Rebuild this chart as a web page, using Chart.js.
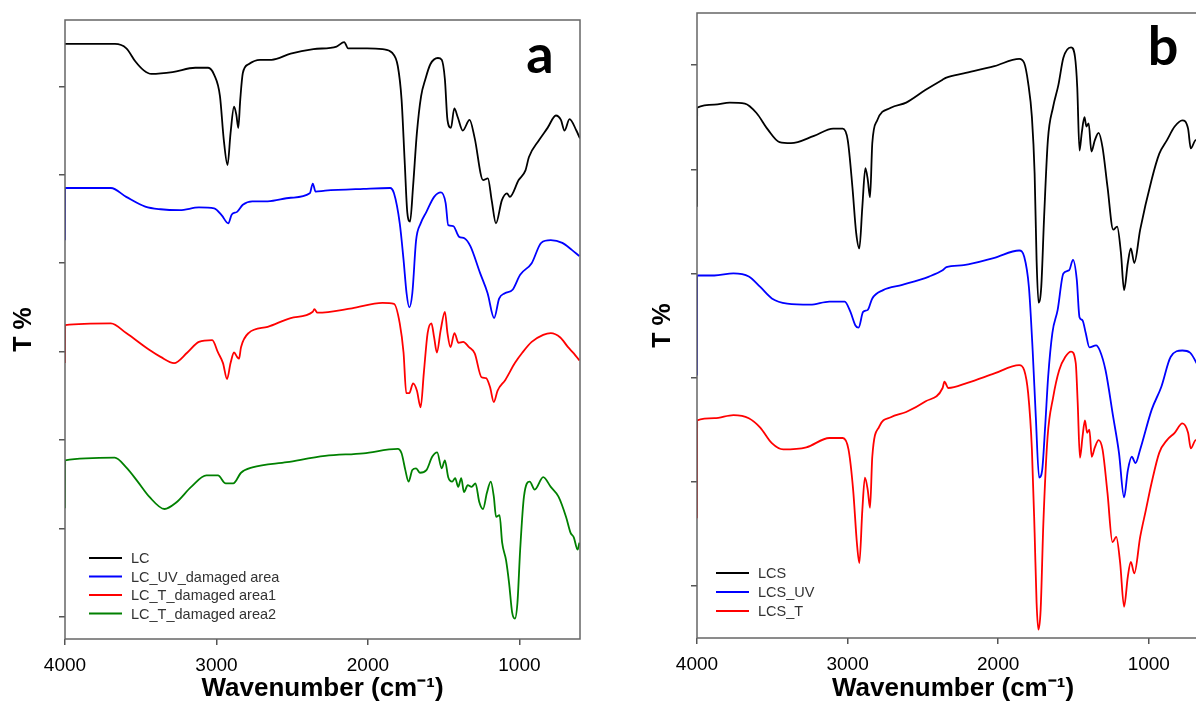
<!DOCTYPE html>
<html>
<head>
<meta charset="utf-8">
<script src="https://cdn.jsdelivr.net/npm/chart.js@4"></script>
<style>
html, body { margin: 0; padding: 0; background: #fff; overflow: hidden; width: 1196px; height: 704px; }
#wrapA { position: absolute; left: 0; top: 0; width: 600px; height: 704px; }
#wrapB { position: absolute; left: 600px; top: 0; width: 640px; height: 704px; }
</style>
</head>
<body>
<div id="wrapA"><canvas id="panelA" width="600" height="704"></canvas></div>
<div id="wrapB"><canvas id="panelB" width="640" height="704"></canvas></div>
<script>
// x ticks (cm-1), y tick marks (offset T%, labels hidden)
const wnTicks = [4000, 3000, 2000, 1000];
const tTicksA = [0, 1, 2, 3, 4, 5, 6];
const tTicksB = [0, 1, 2, 3, 4, 5];

// Panel a - LC
const lcWn = [4000, 3670, 3595, 3535, 3480, 3430, 3290, 3140, 3055, 3015, 2977, 2952, 2927, 2907, 2884, 2869, 2856, 2843, 2826, 2788, 2712, 2636, 2510, 2360, 2207, 2157, 2131, 2005, 1904, 1841, 1803, 1778, 1758, 1740, 1722, 1702, 1677, 1649, 1621, 1588, 1538, 1513, 1492, 1475, 1452, 1430, 1407, 1374, 1329, 1296, 1240, 1208, 1183, 1155, 1116, 1082, 1063, 1005, 960, 937, 871, 814, 759, 726, 702, 669, 624, 600];
const lcT = [6.48, 6.48, 6.43, 6.28, 6.18, 6.14, 6.16, 6.21, 6.21, 6.13, 5.89, 5.40, 5.11, 5.47, 5.77, 5.68, 5.53, 5.85, 6.15, 6.25, 6.30, 6.30, 6.37, 6.42, 6.45, 6.50, 6.43, 6.43, 6.42, 6.38, 6.23, 5.85, 5.17, 4.57, 4.47, 4.87, 5.47, 5.89, 6.08, 6.25, 6.32, 6.30, 6.08, 5.62, 5.53, 5.75, 5.65, 5.50, 5.62, 5.42, 4.94, 4.96, 4.71, 4.45, 4.71, 4.79, 4.75, 4.94, 5.05, 5.20, 5.39, 5.53, 5.67, 5.62, 5.50, 5.63, 5.50, 5.41];

// Panel a - LC_UV_damaged area
const lcUvWn = [4000, 3999, 3697, 3596, 3470, 3369, 3242, 3116, 3015, 2965, 2922, 2899, 2864, 2826, 2763, 2662, 2510, 2384, 2364, 2346, 2283, 2030, 1854, 1828, 1790, 1765, 1745, 1727, 1707, 1682, 1652, 1614, 1563, 1518, 1487, 1470, 1437, 1399, 1361, 1323, 1260, 1210, 1167, 1134, 1096, 1045, 995, 919, 856, 793, 717, 654, 604];
const lcUvT = [4.26, 4.85, 4.85, 4.75, 4.64, 4.61, 4.60, 4.63, 4.62, 4.54, 4.45, 4.55, 4.58, 4.66, 4.70, 4.70, 4.74, 4.79, 4.90, 4.81, 4.82, 4.84, 4.85, 4.79, 4.45, 4.04, 3.66, 3.50, 3.66, 4.26, 4.45, 4.58, 4.75, 4.80, 4.68, 4.43, 4.42, 4.30, 4.28, 4.19, 3.89, 3.66, 3.38, 3.60, 3.66, 3.70, 3.87, 4.00, 4.23, 4.26, 4.23, 4.15, 4.08];

// Panel a - LC_T_damaged area1
const lcT1Wn = [4000, 3999, 3697, 3596, 3444, 3369, 3280, 3192, 3116, 3028, 2990, 2957, 2930, 2907, 2884, 2864, 2851, 2838, 2788, 2662, 2510, 2364, 2354, 2333, 2106, 1904, 1828, 1790, 1765, 1747, 1727, 1702, 1677, 1652, 1631, 1606, 1581, 1563, 1545, 1520, 1492, 1475, 1455, 1429, 1402, 1371, 1333, 1295, 1250, 1220, 1194, 1169, 1144, 1093, 1030, 980, 919, 843, 793, 730, 679, 641, 604];
const lcT1T = [2.87, 3.30, 3.32, 3.21, 3.02, 2.94, 2.87, 2.99, 3.11, 3.13, 2.99, 2.87, 2.69, 2.87, 2.99, 2.94, 2.92, 3.05, 3.21, 3.28, 3.38, 3.45, 3.48, 3.44, 3.49, 3.55, 3.54, 3.32, 2.99, 2.53, 2.53, 2.64, 2.56, 2.37, 2.76, 3.21, 3.32, 3.16, 2.99, 3.24, 3.45, 3.21, 3.05, 3.21, 3.10, 3.11, 3.05, 2.98, 2.71, 2.70, 2.60, 2.43, 2.56, 2.68, 2.87, 2.99, 3.11, 3.19, 3.21, 3.16, 3.05, 2.98, 2.90];

// Panel a - LC_T_damaged area2
const lcT2Wn = [4000, 3999, 3672, 3596, 3520, 3444, 3343, 3268, 3167, 3066, 2990, 2939, 2889, 2838, 2763, 2535, 2283, 2030, 1803, 1778, 1753, 1732, 1707, 1682, 1657, 1614, 1576, 1543, 1513, 1492, 1470, 1444, 1424, 1404, 1384, 1366, 1341, 1316, 1290, 1265, 1240, 1215, 1189, 1169, 1154, 1131, 1114, 1088, 1068, 1048, 1030, 1013, 995, 970, 932, 899, 843, 793, 742, 692, 662, 641, 616, 604];
const lcT2T = [1.23, 1.77, 1.80, 1.69, 1.53, 1.36, 1.22, 1.29, 1.47, 1.60, 1.60, 1.51, 1.51, 1.63, 1.69, 1.75, 1.82, 1.85, 1.90, 1.85, 1.66, 1.53, 1.66, 1.68, 1.63, 1.66, 1.81, 1.86, 1.68, 1.77, 1.58, 1.53, 1.57, 1.47, 1.57, 1.41, 1.49, 1.47, 1.51, 1.30, 1.22, 1.40, 1.53, 1.36, 1.13, 1.15, 0.84, 0.64, 0.38, 0.05, -0.02, 0.16, 0.76, 1.36, 1.53, 1.44, 1.58, 1.47, 1.36, 1.13, 0.95, 0.90, 0.76, 0.84];

// Panel b - LCS
const lcsWn = [4000, 3999, 3885, 3783, 3682, 3605, 3529, 3452, 3376, 3223, 3096, 3032, 2999, 2968, 2943, 2922, 2902, 2882, 2866, 2851, 2836, 2803, 2713, 2611, 2484, 2369, 2344, 2229, 2025, 1860, 1827, 1801, 1776, 1758, 1745, 1732, 1714, 1695, 1670, 1635, 1600, 1567, 1516, 1490, 1475, 1460, 1445, 1427, 1414, 1399, 1381, 1358, 1333, 1307, 1274, 1236, 1210, 1185, 1164, 1139, 1119, 1096, 1057, 981, 930, 879, 828, 777, 739, 721, 688, 655, 600];
const lcsT = [3.64, 4.59, 4.62, 4.64, 4.63, 4.54, 4.38, 4.26, 4.25, 4.32, 4.39, 4.39, 4.28, 3.83, 3.39, 3.24, 3.64, 4.01, 3.90, 3.73, 4.25, 4.47, 4.59, 4.64, 4.76, 4.86, 4.88, 4.92, 4.99, 5.06, 5.02, 4.83, 4.50, 3.96, 3.13, 2.72, 2.87, 3.54, 4.28, 4.60, 4.81, 5.07, 5.17, 5.08, 4.79, 4.18, 4.35, 4.50, 4.41, 4.44, 4.17, 4.28, 4.35, 4.21, 3.83, 3.42, 3.45, 3.20, 2.84, 3.10, 3.24, 3.10, 3.42, 3.90, 4.15, 4.28, 4.41, 4.47, 4.39, 4.20, 4.28, 4.21, 4.10];

// Panel b - LCS_UV
const lcsUvWn = [4000, 3999, 3885, 3758, 3656, 3580, 3503, 3401, 3248, 3121, 3019, 2981, 2948, 2927, 2897, 2866, 2836, 2764, 2637, 2459, 2369, 2344, 2229, 2025, 1860, 1827, 1796, 1771, 1750, 1728, 1708, 1688, 1668, 1640, 1605, 1567, 1529, 1503, 1478, 1460, 1440, 1419, 1394, 1350, 1325, 1287, 1236, 1198, 1164, 1139, 1113, 1088, 1057, 981, 917, 854, 777, 726, 655, 600];
const lcsUvT = [2.02, 2.98, 2.98, 3.00, 2.97, 2.87, 2.76, 2.71, 2.70, 2.73, 2.73, 2.63, 2.50, 2.48, 2.63, 2.65, 2.76, 2.84, 2.89, 2.97, 3.03, 3.06, 3.08, 3.15, 3.22, 3.16, 2.87, 2.26, 1.62, 1.04, 1.11, 1.53, 2.01, 2.43, 2.65, 3.00, 3.03, 3.13, 2.94, 2.58, 2.55, 2.43, 2.29, 2.31, 2.26, 2.07, 1.62, 1.28, 0.85, 1.11, 1.24, 1.18, 1.31, 1.69, 1.91, 2.20, 2.26, 2.24, 2.07, 2.00];

// Panel b - LCS_T
const lcsTWn = [4000, 3999, 3885, 3758, 3656, 3580, 3503, 3427, 3274, 3121, 3032, 2994, 2963, 2938, 2922, 2902, 2885, 2866, 2851, 2836, 2790, 2713, 2611, 2484, 2369, 2357, 2331, 2204, 2025, 1860, 1827, 1801, 1776, 1758, 1745, 1733, 1718, 1700, 1672, 1635, 1595, 1554, 1516, 1485, 1472, 1457, 1440, 1424, 1409, 1394, 1379, 1358, 1333, 1307, 1274, 1241, 1216, 1190, 1164, 1139, 1119, 1096, 1057, 1019, 981, 930, 879, 828, 777, 739, 721, 688, 655, 600];
const lcsTT = [0.65, 1.59, 1.61, 1.64, 1.61, 1.52, 1.37, 1.31, 1.33, 1.42, 1.42, 1.31, 0.92, 0.41, 0.22, 0.73, 1.04, 0.92, 0.75, 1.24, 1.53, 1.62, 1.67, 1.77, 1.90, 1.96, 1.90, 1.95, 2.04, 2.12, 2.07, 1.85, 1.31, 0.51, -0.16, -0.42, -0.23, 0.60, 1.43, 1.81, 2.07, 2.20, 2.25, 2.14, 1.76, 1.23, 1.43, 1.59, 1.47, 1.50, 1.24, 1.33, 1.40, 1.31, 0.89, 0.42, 0.47, 0.22, -0.20, 0.09, 0.23, 0.12, 0.47, 0.73, 0.99, 1.28, 1.40, 1.47, 1.56, 1.47, 1.32, 1.40, 1.35, 1.30];

// box, panel letter and in-plot legend
const panelDecor = {
    id: 'panelDecor',
    afterDraw(chart, args, o) {
        const ctx = chart.ctx;
        const a = chart.chartArea;
        ctx.save();
        ctx.strokeStyle = '#666';
        ctx.lineWidth = 1.5;
        ctx.strokeRect(a.left, a.top, a.right - a.left, a.bottom - a.top);

        ctx.fillStyle = '#000';
        ctx.font = 'bold 54px Lato';
        ctx.textAlign = 'center';
        ctx.textBaseline = 'alphabetic';
        ctx.fillText(o.letter, a.right - o.letterDx, a.top + o.letterDy);

        ctx.font = '14.5px "Liberation Sans"';
        ctx.textAlign = 'left';
        ctx.textBaseline = 'middle';
        chart.data.datasets.forEach((ds, i) => {
            const y = a.bottom - o.legendDy + i * o.legendStep;
            const x = a.left + o.legendDx;
            ctx.strokeStyle = ds.borderColor;
            ctx.lineWidth = 2;
            ctx.beginPath();
            ctx.moveTo(x, y);
            ctx.lineTo(x + 33, y);
            ctx.stroke();
            ctx.fillStyle = '#333';
            ctx.fillText(ds.label, x + 42, y + 1);
        });
        ctx.restore();
    }
};

function makeSpectrum(canvasId, cfg) {
    return new Chart(document.getElementById(canvasId).getContext('2d'), {
        type: 'line',
        data: {
            datasets: cfg.series.map(s => ({
                label: s.label,
                data: s.wn.map((x, i) => ({ x: x, y: s.t[i] })),
                borderColor: s.color,
                borderWidth: 1.8,
                pointRadius: 0,
                cubicInterpolationMode: 'monotone',
                fill: false
            }))
        },
        options: {
            responsive: false,
            animation: false,
            devicePixelRatio: 1,
            layout: { padding: cfg.padding },
            plugins: {
                legend: { display: false },
                tooltip: { enabled: false },
                panelDecor: cfg.decor
            },
            scales: {
                x: {
                    type: 'linear',
                    reverse: true,
                    min: 600,
                    max: 4000,
                    afterBuildTicks: s => { s.ticks = wnTicks.map(v => ({ value: v })); },
                    ticks: {
                        color: '#000',
                        font: { family: 'Liberation Sans', size: 19 },
                        padding: 9,
                        maxRotation: 0,
                        callback: v => String(v)
                    },
                    grid: { display: true, drawOnChartArea: false, drawTicks: true, tickLength: 6, color: '#555', lineWidth: 1.5 },
                    border: { display: false },
                    title: {
                        display: true,
                        text: 'Wavenumber (cm\u207B\u00B9)',
                        color: '#000',
                        font: { family: 'Liberation Sans', size: 26, weight: 'bold' },
                        padding: 0
                    },
                    afterFit: s => { s.height = cfg.xHeight; }
                },
                y: {
                    min: cfg.yMin,
                    max: cfg.yMax,
                    afterBuildTicks: s => { s.ticks = cfg.yTicks.map(v => ({ value: v })); },
                    ticks: { display: false },
                    grid: { display: true, drawOnChartArea: false, drawTicks: true, tickLength: 6, color: '#555', lineWidth: 1.5 },
                    border: { display: false },
                    title: {
                        display: true,
                        text: 'T %',
                        color: '#000',
                        font: { family: 'Liberation Sans', size: 25, weight: 'bold' },
                        padding: { top: cfg.yTitlePad, bottom: 0 }
                    },
                    afterFit: s => { s.width = cfg.yWidth; }
                }
            }
        },
        plugins: [panelDecor]
    });
}

let spectraA = makeSpectrum('panelA', {
    series: [
        { label: 'LC', wn: lcWn, t: lcT, color: '#000000' },
        { label: 'LC_UV_damaged area', wn: lcUvWn, t: lcUvT, color: '#0000ff' },
        { label: 'LC_T_damaged area1', wn: lcT1Wn, t: lcT1T, color: '#ff0000' },
        { label: 'LC_T_damaged area2', wn: lcT2Wn, t: lcT2T, color: '#008000' }
    ],
    padding: { top: 20, right: 20, left: 0, bottom: 0 },
    xHeight: 65,
    yWidth: 65,
    yTitlePad: 9,
    yMin: -0.25,
    yMax: 6.75,
    yTicks: tTicksA,
    decor: { letter: 'a', letterDx: 40, letterDy: 53, legendDx: 24, legendDy: 81, legendStep: 18.5 }
});

let spectraB = makeSpectrum('panelB', {
    series: [
        { label: 'LCS', wn: lcsWn, t: lcsT, color: '#000000' },
        { label: 'LCS_UV', wn: lcsUvWn, t: lcsUvT, color: '#0000ff' },
        { label: 'LCS_T', wn: lcsTWn, t: lcsTT, color: '#ff0000' }
    ],
    padding: { top: 13, right: 31, left: 0, bottom: 0 },
    xHeight: 66,
    yWidth: 97,
    yTitlePad: 48,
    yMin: -0.5,
    yMax: 5.5,
    yTicks: tTicksB,
    decor: { letter: 'b', letterDx: 46, letterDy: 52, legendDx: 19, legendDy: 65, legendStep: 19 }
});
</script>
</body>
</html>
